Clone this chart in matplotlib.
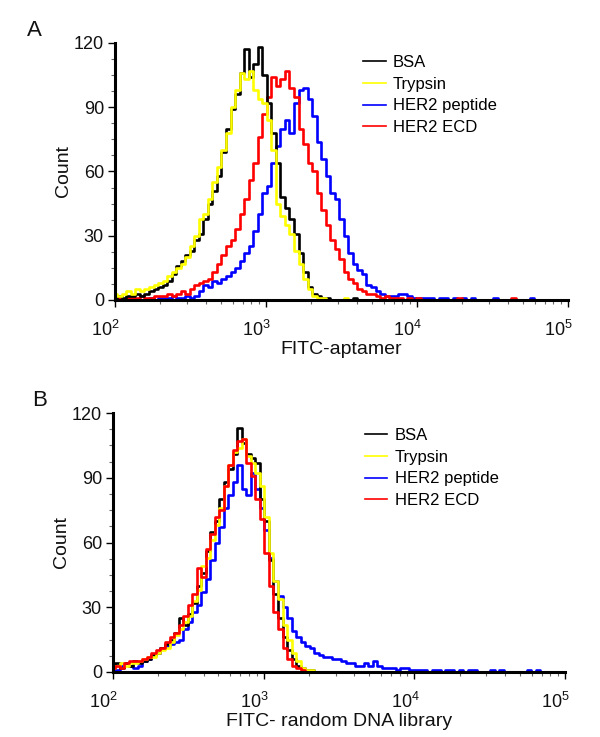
import numpy as np
import matplotlib
matplotlib.use('Agg')
import matplotlib.pyplot as plt
from matplotlib.lines import Line2D
from matplotlib.ticker import FixedLocator, NullFormatter, MultipleLocator, LogLocator
from matplotlib.transforms import ScaledTranslation

plt.rcParams['font.family'] = ['Liberation Sans', 'DejaVu Sans']
plt.rcParams['mathtext.fontset'] = 'custom'
plt.rcParams['mathtext.rm'] = 'Liberation Sans'

# channel positions (log10 of fluorescence)
LOG_CHANNELS = [
    2.00, 2.03, 2.06, 2.09, 2.12, 2.15, 2.18, 2.21, 2.24, 2.27,
    2.30, 2.33, 2.36, 2.39, 2.42, 2.45, 2.48, 2.51, 2.54, 2.57,
    2.60, 2.63, 2.66, 2.69, 2.72, 2.75, 2.78, 2.81, 2.84, 2.87,
    2.90, 2.93, 2.96, 2.99, 3.02, 3.05, 3.08, 3.11, 3.14, 3.17,
    3.20, 3.23, 3.26, 3.29, 3.32, 3.35, 3.38, 3.41, 3.44, 3.47,
    3.50, 3.53, 3.56, 3.59, 3.62, 3.65, 3.68, 3.71, 3.74, 3.77,
    3.80, 3.83, 3.86, 3.89, 3.92, 3.95, 3.98, 4.01, 4.04, 4.07,
    4.10, 4.13, 4.16, 4.19, 4.22, 4.25, 4.28, 4.31, 4.34, 4.37,
    4.40, 4.43, 4.46, 4.49, 4.52, 4.55, 4.58, 4.61, 4.64, 4.67,
    4.70, 4.73, 4.76, 4.79, 4.82, 4.85, 4.88, 4.91,
]

SERIES = ["BSA", "Trypsin", "HER2 peptide", "HER2 ECD"]
COLORS = ["#000000", "#ffff00", "#0000ff", "#ff0000"]

# Panel A: FITC-aptamer
A_BSA = [
    1, 2, 1, 2, 2, 3, 2, 3, 4, 5,
    6, 7, 9, 12, 16, 18, 21, 23, 28, 31,
    38, 45, 51, 58, 69, 80, 89, 96, 106, 117,
    104, 110, 118, 105, 92, 78, 64, 48, 43, 38,
    31, 22, 13, 6, 3, 2, 1, 1, 0, 0,
    0, 0, 0, 1, 0, 0, 0, 0, 0, 0,
    0, 0, 0, 0, 0, 0, 0, 0, 0, 0,
    0, 0, 0, 0, 0, 0, 0, 0, 0, 0,
    0, 0, 0, 0, 0, 0, 0, 0, 0, 0,
    0, 0, 0, 0, 0, 0, 0, 0,
]
A_TRYPSIN = [
    3, 2, 3, 4, 3, 5, 4, 5, 6, 7,
    8, 9, 11, 13, 15, 17, 20, 25, 30, 38,
    40, 47, 55, 62, 70, 78, 90, 98, 106, 103,
    107, 98, 94, 92, 84, 70, 45, 39, 35, 31,
    23, 17, 10, 5, 2, 1, 1, 0, 0, 0,
    0, 1, 0, 0, 0, 0, 0, 0, 0, 0,
    0, 0, 0, 0, 0, 0, 0, 0, 0, 0,
    0, 0, 0, 0, 0, 0, 0, 0, 0, 0,
    0, 0, 0, 0, 0, 0, 0, 0, 0, 0,
    0, 0, 0, 0, 0, 0, 0, 0,
]
A_PEPTIDE = [
    0, 0, 0, 0, 0, 0, 0, 0, 1, 0,
    1, 1, 1, 2, 1, 1, 2, 1, 2, 4,
    7, 6, 9, 8, 10, 11, 13, 15, 18, 22,
    25, 32, 40, 50, 53, 64, 72, 80, 84, 78,
    92, 98, 99, 94, 86, 74, 66, 58, 50, 47,
    38, 30, 22, 17, 14, 12, 7, 6, 4, 3,
    2, 2, 2, 3, 3, 2, 1, 1, 1, 1,
    1, 0, 1, 1, 0, 1, 0, 1, 0, 1,
    0, 0, 0, 0, 1, 0, 0, 0, 0, 0,
    0, 0, 1, 0, 0, 0, 0, 0,
]
A_ECD = [
    1, 1, 0, 1, 1, 1, 2, 1, 1, 2,
    2, 2, 3, 2, 3, 4, 3, 5, 7, 8,
    9, 10, 13, 17, 21, 25, 28, 33, 40, 47,
    56, 64, 76, 87, 95, 104, 100, 103, 107, 99,
    95, 80, 73, 64, 60, 50, 42, 35, 28, 24,
    19, 13, 10, 8, 5, 4, 3, 3, 2, 1,
    2, 1, 1, 1, 0, 1, 0, 1, 0, 0,
    0, 0, 0, 0, 0, 0, 1, 0, 0, 0,
    0, 0, 0, 0, 0, 0, 0, 0, 1, 0,
    0, 0, 0, 0, 0, 0, 0, 0,
]

# Panel B: FITC- random DNA library
B_BSA = [
    3, 4, 2, 4, 3, 5, 4, 5, 6, 8,
    9, 11, 13, 15, 18, 25, 22, 27, 32, 40,
    46, 56, 65, 70, 80, 88, 94, 101, 113, 106,
    101, 99, 97, 80, 70, 52, 36, 25, 16, 10,
    6, 3, 2, 1, 1, 0, 0, 0, 0, 0,
    0, 0, 0, 0, 0, 0, 0, 0, 0, 0,
    0, 0, 0, 0, 0, 0, 0, 0, 0, 0,
    0, 0, 0, 0, 0, 0, 0, 0, 0, 0,
    0, 0, 0, 0, 0, 0, 0, 0, 0, 0,
    0, 0, 0, 0, 0, 0, 0, 0,
]
B_TRYPSIN = [
    2, 3, 4, 3, 4, 4, 5, 6, 7, 7,
    9, 10, 11, 14, 17, 20, 23, 26, 33, 38,
    49, 53, 61, 68, 76, 86, 96, 102, 104, 108,
    100, 97, 92, 86, 72, 55, 42, 34, 22, 15,
    9, 5, 2, 1, 1, 0, 0, 0, 0, 0,
    0, 0, 0, 0, 0, 0, 0, 0, 0, 0,
    0, 0, 0, 0, 0, 0, 0, 0, 0, 0,
    0, 0, 0, 0, 0, 0, 0, 0, 0, 0,
    0, 0, 0, 0, 0, 0, 0, 0, 0, 0,
    0, 0, 0, 0, 0, 0, 0, 0,
]
B_PEPTIDE = [
    2, 1, 3, 4, 3, 2, 3, 5, 6, 8,
    9, 11, 12, 13, 14, 15, 20, 23, 28, 31,
    37, 43, 52, 60, 67, 76, 82, 88, 96, 85,
    82, 92, 85, 76, 66, 53, 42, 35, 30, 25,
    19, 16, 14, 12, 11, 9, 8, 7, 7, 6,
    6, 5, 4, 4, 3, 3, 4, 3, 5, 3,
    2, 2, 2, 1, 2, 2, 1, 1, 1, 1,
    0, 1, 1, 0, 1, 1, 0, 1, 0, 1,
    1, 0, 0, 0, 1, 0, 1, 0, 0, 0,
    0, 0, 1, 0, 1, 0, 0, 0,
]
B_ECD = [
    2, 3, 2, 4, 5, 5, 5, 6, 7, 9,
    10, 11, 14, 16, 18, 22, 26, 31, 36, 48,
    44, 57, 64, 72, 75, 86, 96, 103, 107, 108,
    97, 91, 80, 71, 55, 40, 28, 20, 11, 6,
    3, 2, 1, 0, 0, 0, 0, 0, 0, 0,
    0, 0, 0, 0, 0, 0, 0, 0, 0, 0,
    0, 0, 0, 0, 0, 0, 0, 0, 0, 0,
    0, 0, 0, 0, 0, 0, 0, 0, 0, 0,
    0, 0, 0, 0, 0, 0, 0, 0, 0, 0,
    0, 0, 0, 0, 0, 0, 0, 0,
]

X_TICKS = [1e2, 1e3, 1e4, 1e5]
X_TICK_LABELS = [r'$\mathregular{10^{2}}$', r'$\mathregular{10^{3}}$',
                 r'$\mathregular{10^{4}}$', r'$\mathregular{10^{5}}$']
Y_TICKS = [0, 30, 60, 90, 120]

fig = plt.figure(figsize=(6.0, 7.37), dpi=100)
fig.patch.set_facecolor('white')

axA = fig.add_axes([115 / 600, 1 - 300 / 737, 453 / 600, 257 / 737])
axB = fig.add_axes([113 / 600, 1 - 672 / 737, 452 / 600, 259 / 737])

x = 10 ** np.array(LOG_CHANNELS)


def style_axes(ax, xlabel):
    ax.set_xscale('log')
    ax.set_xlim(1e2, 1e5)
    ax.set_ylim(0, 120)
    for s in ['top', 'right']:
        ax.spines[s].set_visible(False)
    for s in ['left', 'bottom']:
        ax.spines[s].set_linewidth(2.2)
        ax.spines[s].set_zorder(5)
    ax.xaxis.set_major_locator(FixedLocator(X_TICKS))
    ax.xaxis.set_minor_locator(LogLocator(base=10, subs=range(2, 10)))
    ax.xaxis.set_minor_formatter(NullFormatter())
    ax.set_xticklabels(X_TICK_LABELS)
    ax.yaxis.set_major_locator(FixedLocator(Y_TICKS))
    ax.yaxis.set_minor_locator(MultipleLocator(7.5))
    ax.tick_params(which='major', length=5, width=1.0, color='black',
                   labelsize=13, labelcolor='#111111', pad=3)
    ax.tick_params(axis='x', which='major', length=5, pad=9)
    ax.tick_params(which='minor', length=3, width=0.8, color='#666666')
    off = ScaledTranslation(5 / 100, 0, fig.dpi_scale_trans)
    for lab in ax.get_xticklabels():
        lab.set_ha('right')
        lab.set_transform(lab.get_transform() + off)
    ax.set_ylabel('Count', fontsize=14, color='#111111', labelpad=1)
    ax.set_xlabel(xlabel, fontsize=14, color='#111111', labelpad=1)


def draw(ax, data, order):
    for i in order:
        ax.step(x, data[i], where='mid', color=COLORS[i], lw=1.9,
                zorder=2 + order.index(i))


draw(axA, [A_BSA, A_TRYPSIN, A_PEPTIDE, A_ECD], [2, 3, 0, 1])
draw(axB, [B_BSA, B_TRYPSIN, B_PEPTIDE, B_ECD], [2, 0, 1, 3])

style_axes(axA, 'FITC-aptamer')
style_axes(axB, 'FITC- random DNA library')

handles = [Line2D([], [], color=c, lw=1.2) for c in COLORS]
for ax, (lx, ly) in [(axA, (363, 55)), (axB, (365, 428))]:
    ax.legend(handles, SERIES, loc='upper left',
              bbox_to_anchor=(lx / 600, 1 - ly / 737), bbox_transform=fig.transFigure,
              frameon=False, fontsize=12, handlelength=1.35, handletextpad=0.45,
              labelspacing=0.4, borderpad=0, borderaxespad=0)

fig.text(34 / 600, 1 - 30 / 737, 'A', fontsize=16, ha='center', va='center', color='#111111')
fig.text(40 / 600, 1 - 400 / 737, 'B', fontsize=16, ha='center', va='center', color='#111111')

fig.savefig('out.png', dpi=100, facecolor='white')
